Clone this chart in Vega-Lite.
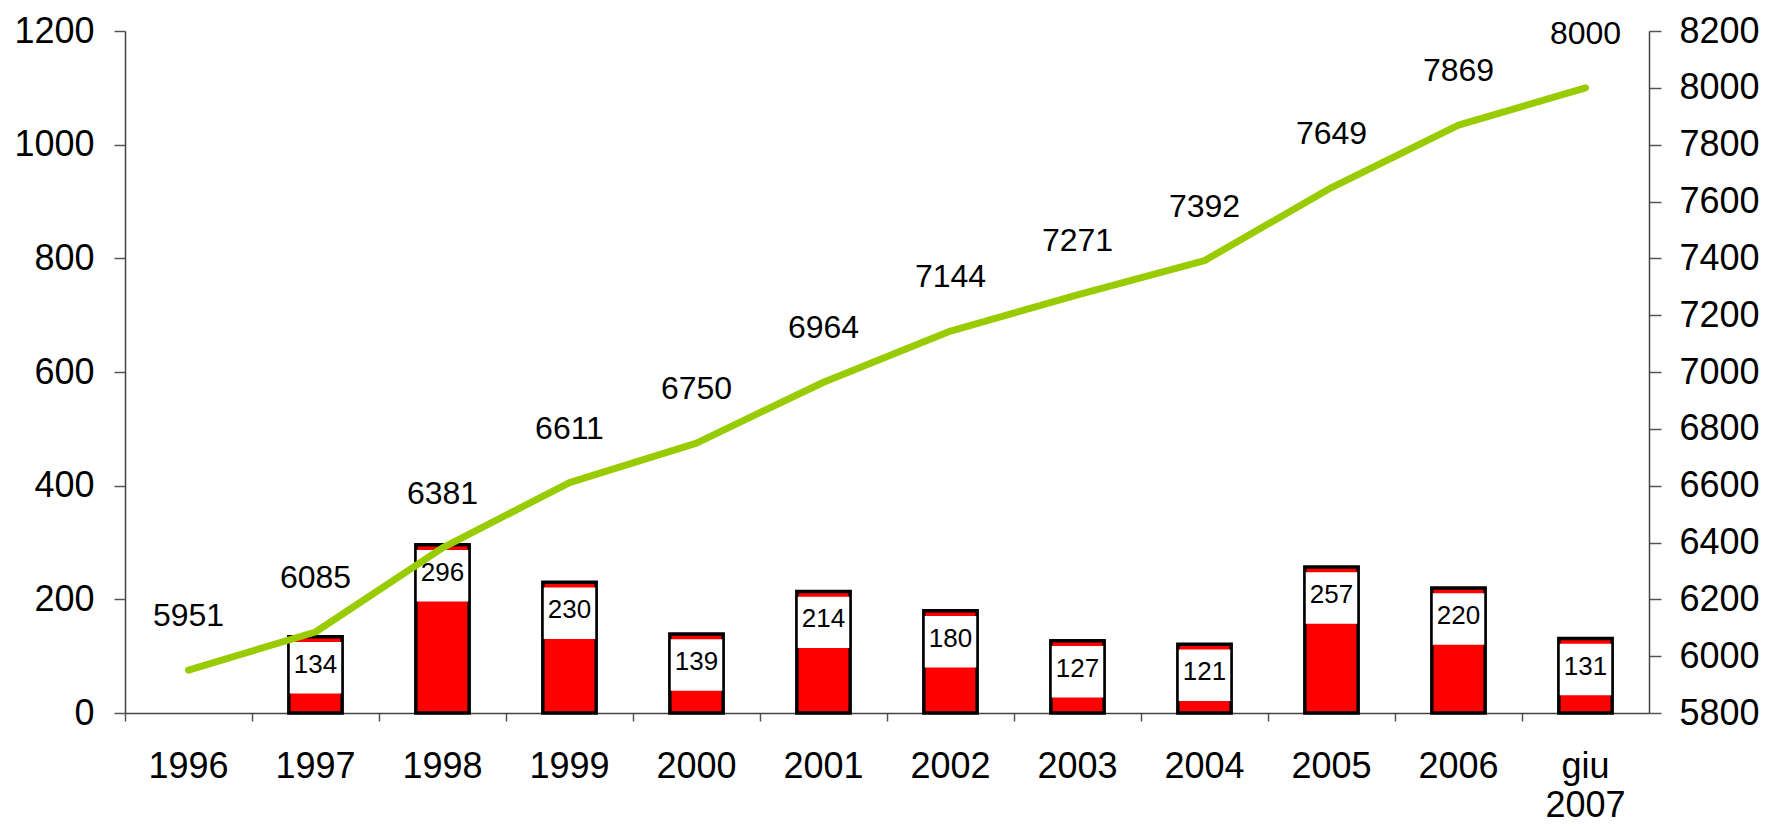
{
  "$schema": "https://vega.github.io/schema/vega-lite/v6.json",
  "autosize": {"type": "none"},
  "width": 1524,
  "height": 682,
  "padding": {"left": 125, "top": 31, "right": 120, "bottom": 114},
  "background": "white",
  "config": {
    "view": {"stroke": null},
    "font": "Liberation Sans",
    "axis": {"grid": false, "labelFont": "Liberation Sans", "labelColor": "black", "domainColor": "#444", "tickColor": "#555", "domainWidth": 1.5, "tickWidth": 1.5, "labelFontSize": 36, "title": null}
  },
  "data": {"values": [
    {"year": "1996", "nuove": null, "totale": 5951},
    {"year": "1997", "nuove": 134, "totale": 6085},
    {"year": "1998", "nuove": 296, "totale": 6381},
    {"year": "1999", "nuove": 230, "totale": 6611},
    {"year": "2000", "nuove": 139, "totale": 6750},
    {"year": "2001", "nuove": 214, "totale": 6964},
    {"year": "2002", "nuove": 180, "totale": 7144},
    {"year": "2003", "nuove": 127, "totale": 7271},
    {"year": "2004", "nuove": 121, "totale": 7392},
    {"year": "2005", "nuove": 257, "totale": 7649},
    {"year": "2006", "nuove": 220, "totale": 7869},
    {"year": "giu 2007", "nuove": 131, "totale": 8000}
  ]},
  "encoding": {
    "x": {
      "field": "year", "type": "nominal",
      "sort": ["1996", "1997", "1998", "1999", "2000", "2001", "2002", "2003", "2004", "2005", "2006", "giu 2007"],
      "scale": {"type": "band", "domain": ["1996", "1997", "1998", "1999", "2000", "2001", "2002", "2003", "2004", "2005", "2006", "giu 2007"], "paddingInner": 0.58, "paddingOuter": 0.29},
      "axis": {"labelAngle": 0, "bandPosition": -0.69, "tickSize": 8, "labelPadding": 28, "labelLineHeight": 39, "labelBaseline": "top", "labelExpr": "split(datum.value, ' ')"}
    }
  },
  "layer": [
    {
      "transform": [{"filter": "isValid(datum.nuove)"}],
      "layer": [
        {
          "mark": {"type": "bar", "color": "#FF0000", "stroke": "black", "strokeWidth": 3.5},
          "encoding": {
            "y": {"field": "nuove", "type": "quantitative", "scale": {"domain": [0, 1200], "nice": false}, "axis": {"values": [0, 200, 400, 600, 800, 1000, 1200], "format": "d", "tickSize": 11, "labelPadding": 20}}
          }
        },
        {
          "mark": {"type": "point", "shape": "square", "filled": true, "color": "white", "opacity": 1, "size": 2650, "yOffset": 31},
          "encoding": {
            "y": {"field": "nuove", "type": "quantitative"}
          }
        },
        {
          "mark": {"type": "text", "fontSize": 26, "dy": 28, "baseline": "middle", "color": "black"},
          "encoding": {
            "y": {"field": "nuove", "type": "quantitative"},
            "text": {"field": "nuove", "type": "quantitative", "format": "d"}
          }
        }
      ]
    },
    {
      "layer": [
        {
          "mark": {"type": "line", "color": "#99CC00", "strokeWidth": 7, "strokeCap": "round", "strokeJoin": "round"},
          "encoding": {
            "y": {"field": "totale", "type": "quantitative", "scale": {"domain": [5800, 8200], "nice": false, "zero": false}, "axis": {"orient": "right", "values": [5800, 6000, 6200, 6400, 6600, 6800, 7000, 7200, 7400, 7600, 7800, 8000, 8200], "format": "d", "tickSize": 12, "labelPadding": 18}}
          }
        },
        {
          "mark": {"type": "text", "fontSize": 32, "dy": -54, "baseline": "middle", "color": "black"},
          "encoding": {
            "y": {"field": "totale", "type": "quantitative"},
            "text": {"field": "totale", "type": "quantitative", "format": "d"}
          }
        }
      ]
    }
  ],
  "resolve": {"scale": {"y": "independent"}}
}
